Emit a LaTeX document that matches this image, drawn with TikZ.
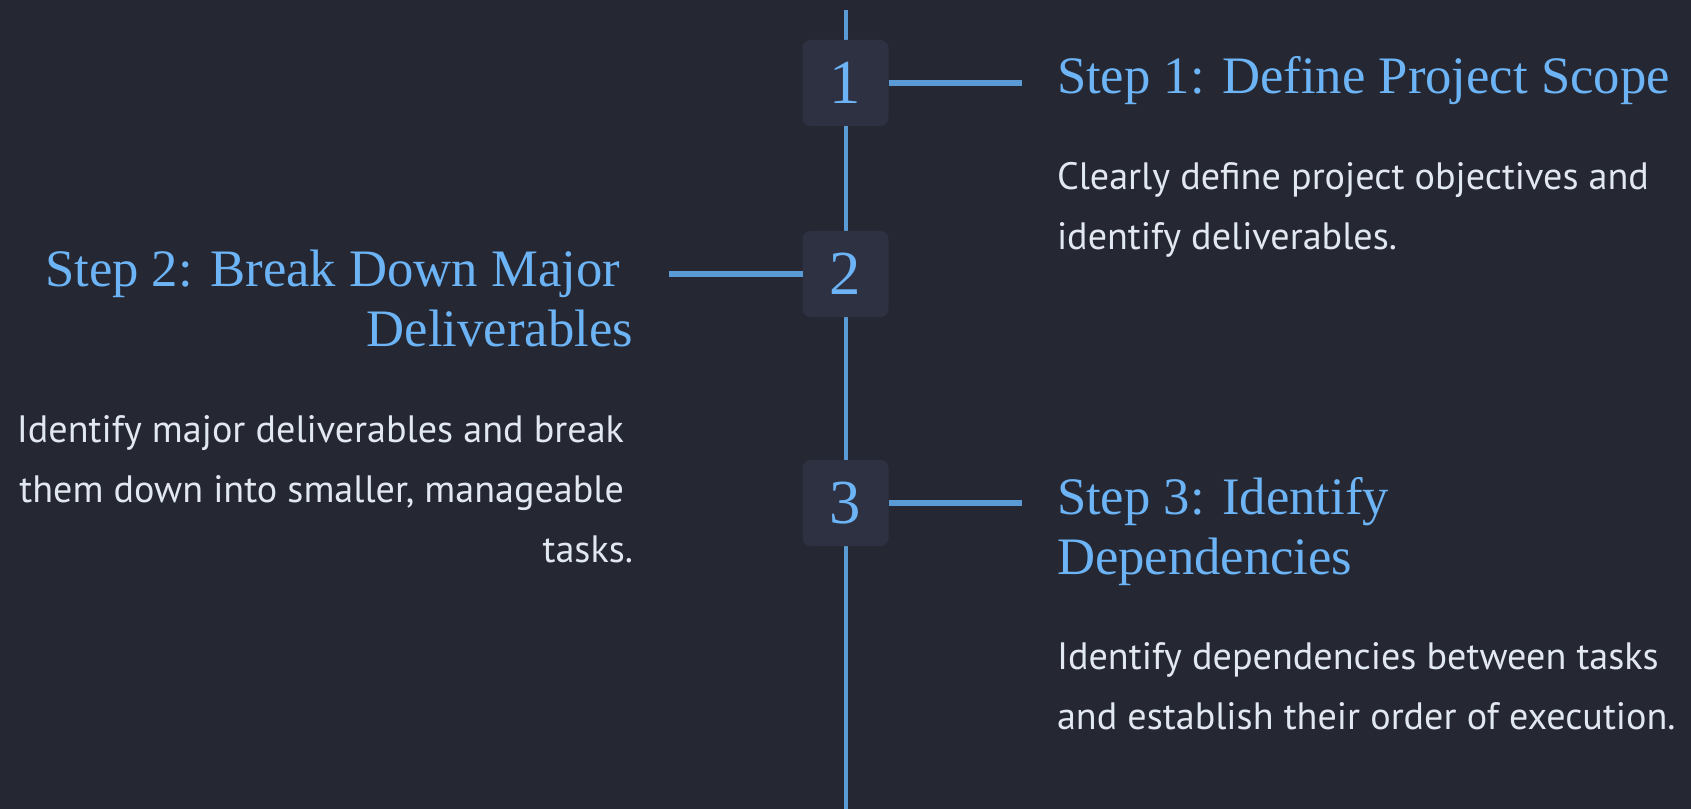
\documentclass[tikz,border=0pt]{standalone}
\usepackage{fontspec}
\setmainfont{PT Sans}
\newfontfamily\headfont{Liberation Serif}
\definecolor{bgdark}{HTML}{252733}
\definecolor{boxfill}{HTML}{2E3142}
\definecolor{linkblue}{HTML}{5B9BD5}
\definecolor{headblue}{HTML}{6CB4F5}
\definecolor{bodytext}{HTML}{E2E8F0}
\tikzset{
  stepnum/.style={fill=boxfill, rounded corners=6pt, minimum width=64.5pt,
    minimum height=64.5pt, text=headblue, font=\headfont\fontsize{47}{47}\selectfont},
  steptitle/.style={text=headblue, font=\headfont\fontsize{39.5}{45}\selectfont},
  stepbody/.style={text=bodytext, font=\fontsize{28.6}{45}\selectfont},
  spine/.style={draw=linkblue, line width=3pt},
  link/.style={draw=linkblue, line width=4.5pt},
}
\begin{document}
\begin{tikzpicture}[y=0.75pt, x=0.75pt, yscale=-1.000000, xscale=1.000000, inner sep=0pt, outer sep=0pt]
  \useasboundingbox (0,0) rectangle (1691,809);
  \path[fill=bgdark] (0,0) rectangle (1691,809);
  % timeline
  \coordinate (top) at (845.5,10);
  \coordinate (bottom) at (845.5,809);
  \path[spine] (top) -- (bottom);
  % number boxes
  \node[stepnum] (num1) at (845.5,83) {1};
  \node[stepnum] (num2) at (845.5,274) {2};
  \node[stepnum] (num3) at (845.5,503) {3};
  \coordinate (end1) at (1022,83);
  \coordinate (end2) at (669,274);
  \coordinate (end3) at (1022,503);
  \path[link] (num1) -- (end1);
  \path[link] (num2) -- (end2);
  \path[link] (num3) -- (end3);
  % texts (base = last line)
  \node[steptitle, anchor=base west] (title1) at (1057,94) {Step 1: Define Project Scope};
  \node[stepbody, anchor=base west, align=left] (body1) at (1057,250)
    {Clearly define project objectives and\\identify deliverables.};
  \node[steptitle, anchor=base east, align=right] (title2) at (633,346)
    {Step 2: Break Down Major\kern9.75pt\\Deliverables};
  \node[stepbody, anchor=base east, align=right] (body2) at (633,562)
    {Identify major deliverables and break\kern6.75pt\\them down into smaller, manageable\kern6.75pt\\tasks.};
  \node[steptitle, anchor=base west, align=left] (title3) at (1057,574)
    {Step 3: Identify\\Dependencies};
  \node[stepbody, anchor=base west, align=left] (body3) at (1057,729)
    {Identify dependencies between tasks\\and establish their order of execution.};
\end{tikzpicture}
\end{document}
